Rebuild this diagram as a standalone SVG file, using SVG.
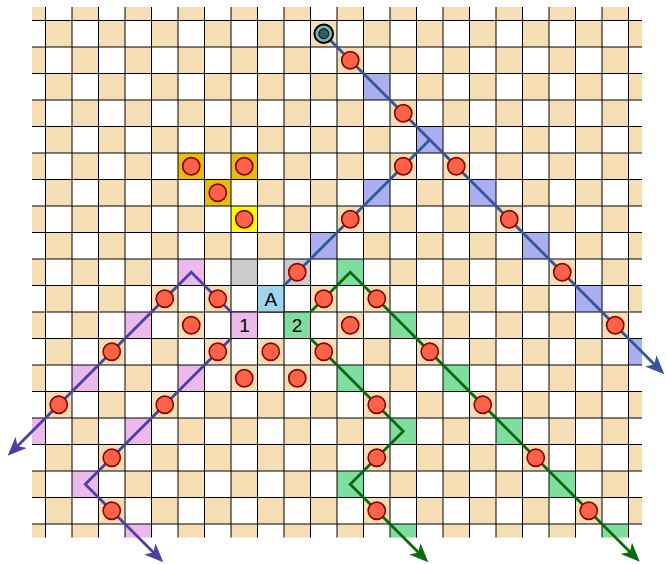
<svg xmlns="http://www.w3.org/2000/svg" width="666" height="564" viewBox="0 0 666 564">
<style>
.grid{stroke:#000;stroke-width:1;fill:none}
.blue{fill:#a9aff0}
.pink{fill:#ebb9ea}
.green{fill:#80dda0}
.gray{fill:#cbcbcb}
.gold{fill:#e6bd0e}
.yellow{fill:#ffff00}
.cellA{fill:#9fd5ec}
.dot{fill:#ff6347;stroke:#8b0000;stroke-width:1.6}
.lb{stroke:#34559a;stroke-width:2.8;fill:none}
.lp{stroke:#4d40a3;stroke-width:2.8;fill:none;stroke-linejoin:miter}
.lg{stroke:#0a6a0a;stroke-width:2.8;fill:none;stroke-linejoin:miter}
.lbl{font-family:"Liberation Sans",Arial,sans-serif;font-size:19px;fill:#000;text-anchor:middle;dominant-baseline:central}
</style>
<defs>
<pattern id="checker" patternUnits="userSpaceOnUse" x="19" y="-6" width="53" height="53">
<rect x="0" y="0" width="26.5" height="26.5" fill="#f5deb3"/>
<rect x="26.5" y="26.5" width="26.5" height="26.5" fill="#f5deb3"/>
</pattern>
<marker id="ab" viewBox="0 -9 20 18" refX="8" refY="0" markerWidth="20" markerHeight="18" markerUnits="userSpaceOnUse" orient="auto"><path d="M0,-8 L19,0 L0,8 L5,0 Z" fill="#34559a"/></marker>
<marker id="ap" viewBox="0 -9 20 18" refX="8" refY="0" markerWidth="20" markerHeight="18" markerUnits="userSpaceOnUse" orient="auto"><path d="M0,-8 L19,0 L0,8 L5,0 Z" fill="#4d40a3"/></marker>
<marker id="ag" viewBox="0 -9 20 18" refX="8" refY="0" markerWidth="20" markerHeight="18" markerUnits="userSpaceOnUse" orient="auto"><path d="M0,-8 L19,0 L0,8 L5,0 Z" fill="#0a6a0a"/></marker>
</defs>
<rect x="0" y="0" width="666" height="564" fill="#fff"/>
<g id="board">
<rect x="32" y="7" width="610" height="530.5" fill="url(#checker)"/>
</g>
<g id="cells">
<rect class="blue" x="363.5" y="73.5" width="26.5" height="26.5"/>
<rect class="blue" x="416.5" y="126.5" width="26.5" height="26.5"/>
<rect class="blue" x="469.5" y="179.5" width="26.5" height="26.5"/>
<rect class="blue" x="522.5" y="232.5" width="26.5" height="26.5"/>
<rect class="blue" x="575.5" y="285.5" width="26.5" height="26.5"/>
<rect class="blue" x="628.5" y="338.5" width="13.5" height="26.5"/>
<rect class="blue" x="363.5" y="179.5" width="26.5" height="26.5"/>
<rect class="blue" x="310.5" y="232.5" width="26.5" height="26.5"/>
<rect class="gray" x="231" y="259" width="26.5" height="26.5"/>
<rect class="gray" x="284" y="259" width="26.5" height="26.5"/>
<rect class="gold" x="178" y="153" width="26.5" height="26.5"/>
<rect class="gold" x="231" y="153" width="26.5" height="26.5"/>
<rect class="gold" x="204.5" y="179.5" width="26.5" height="26.5"/>
<rect class="yellow" x="231" y="206" width="26.5" height="26.5"/>
<rect class="pink" x="178" y="259" width="26.5" height="26.5"/>
<rect class="pink" x="125" y="312" width="26.5" height="26.5"/>
<rect class="pink" x="72" y="365" width="26.5" height="26.5"/>
<rect class="pink" x="178" y="365" width="26.5" height="26.5"/>
<rect class="pink" x="32" y="418" width="13.5" height="26.5"/>
<rect class="pink" x="125" y="418" width="26.5" height="26.5"/>
<rect class="pink" x="72" y="471" width="26.5" height="26.5"/>
<rect class="pink" x="125" y="524" width="26.5" height="13.5"/>
<rect class="green" x="337" y="259" width="26.5" height="26.5"/>
<rect class="green" x="390" y="312" width="26.5" height="26.5"/>
<rect class="green" x="443" y="365" width="26.5" height="26.5"/>
<rect class="green" x="496" y="418" width="26.5" height="26.5"/>
<rect class="green" x="549" y="471" width="26.5" height="26.5"/>
<rect class="green" x="602" y="524" width="26.5" height="13.5"/>
<rect class="green" x="337" y="365" width="26.5" height="26.5"/>
<rect class="green" x="390" y="418" width="26.5" height="26.5"/>
<rect class="green" x="337" y="471" width="26.5" height="26.5"/>
<rect class="green" x="390" y="524" width="26.5" height="13.5"/>
</g>
<g id="gridlines">
<path class="grid" d="M45.5,7V537.5M72,7V537.5M98.5,7V537.5M125,7V537.5M151.5,7V537.5M178,7V537.5M204.5,7V537.5M231,7V537.5M257.5,7V537.5M284,7V537.5M310.5,7V537.5M337,7V537.5M363.5,7V537.5M390,7V537.5M416.5,7V537.5M443,7V537.5M469.5,7V537.5M496,7V537.5M522.5,7V537.5M549,7V537.5M575.5,7V537.5M602,7V537.5M628.5,7V537.5"/>
<path class="grid" d="M32,20.5H642M32,47H642M32,73.5H642M32,100H642M32,126.5H642M32,153H642M32,179.5H642M32,206H642M32,232.5H642M32,259H642M32,285.5H642M32,312H642M32,338.5H642M32,365H642M32,391.5H642M32,418H642M32,444.5H642M32,471H642M32,497.5H642M32,524H642"/>
</g>
<g id="cell-A"><rect class="cellA" x="257.5" y="285.5" width="26.5" height="26.5" stroke="#000" stroke-width="1"/><text class="lbl" x="270.75" y="299">A</text></g>
<g id="cell-1"><rect class="pink" x="231" y="312" width="26.5" height="26.5" stroke="#000" stroke-width="1"/><text class="lbl" x="244.5" y="325.5">1</text></g>
<g id="cell-2"><rect class="green" x="284" y="312" width="26.5" height="26.5" stroke="#000" stroke-width="1"/><text class="lbl" x="297" y="325.5">2</text></g>
<g id="connectors">
<path class="lb" d="M323.75,33.75 L656.5,366.5" marker-end="url(#ab)"/>
<path class="lb" d="M429.75,139.75 L284,285.5"/>
<path class="lp" d="M231,312 L191.25,272.25 L15.5,448" marker-end="url(#ap)"/>
<path class="lp" d="M231,338.5 L85.25,484.25 L155.5,554.5" marker-end="url(#ap)"/>
<path class="lg" d="M310.5,312 L350.25,272.25 L632,554" marker-end="url(#ag)"/>
<path class="lg" d="M310.5,338.5 L403.25,431.25 L350.25,484.25 L420.5,554.5" marker-end="url(#ag)"/>
</g>
<g id="start"><circle cx="323.75" cy="33.75" r="9.3" fill="#79b3b0" stroke="#000" stroke-width="2"/><circle cx="323.75" cy="33.75" r="5" fill="#2e5d5a" stroke="#000" stroke-width="1"/></g>
<g id="dots">
<g id="d12-2"><circle class="dot" cx="350.25" cy="60.25" r="8.6"/></g>
<g id="d14-4"><circle class="dot" cx="403.25" cy="113.25" r="8.6"/></g>
<g id="d16-6"><circle class="dot" cx="456.25" cy="166.25" r="8.6"/></g>
<g id="d18-8"><circle class="dot" cx="509.25" cy="219.25" r="8.6"/></g>
<g id="d20-10"><circle class="dot" cx="562.25" cy="272.25" r="8.6"/></g>
<g id="d22-12"><circle class="dot" cx="615.25" cy="325.25" r="8.6"/></g>
<g id="d14-6"><circle class="dot" cx="403.25" cy="166.25" r="8.6"/></g>
<g id="d12-8"><circle class="dot" cx="350.25" cy="219.25" r="8.6"/></g>
<g id="d10-10"><circle class="dot" cx="297.25" cy="272.25" r="8.6"/></g>
<g id="d6-6"><circle class="dot" cx="191.25" cy="166.25" r="8.6"/></g>
<g id="d8-6"><circle class="dot" cx="244.25" cy="166.25" r="8.6"/></g>
<g id="d7-7"><circle class="dot" cx="217.75" cy="192.75" r="8.6"/></g>
<g id="d8-8"><circle class="dot" cx="244.25" cy="219.25" r="8.6"/></g>
<g id="d5-11"><circle class="dot" cx="164.75" cy="298.75" r="8.6"/></g>
<g id="d7-11"><circle class="dot" cx="217.75" cy="298.75" r="8.6"/></g>
<g id="d3-13"><circle class="dot" cx="111.75" cy="351.75" r="8.6"/></g>
<g id="d1-15"><circle class="dot" cx="58.75" cy="404.75" r="8.6"/></g>
<g id="d7-13"><circle class="dot" cx="217.75" cy="351.75" r="8.6"/></g>
<g id="d5-15"><circle class="dot" cx="164.75" cy="404.75" r="8.6"/></g>
<g id="d3-17"><circle class="dot" cx="111.75" cy="457.75" r="8.6"/></g>
<g id="d3-19"><circle class="dot" cx="111.75" cy="510.75" r="8.6"/></g>
<g id="d6-12"><circle class="dot" cx="191.25" cy="325.25" r="8.6"/></g>
<g id="d9-13"><circle class="dot" cx="270.75" cy="351.75" r="8.6"/></g>
<g id="d12-12"><circle class="dot" cx="350.25" cy="325.25" r="8.6"/></g>
<g id="d8-14"><circle class="dot" cx="244.25" cy="378.25" r="8.6"/></g>
<g id="d10-14"><circle class="dot" cx="297.25" cy="378.25" r="8.6"/></g>
<g id="d11-11"><circle class="dot" cx="323.75" cy="298.75" r="8.6"/></g>
<g id="d13-11"><circle class="dot" cx="376.75" cy="298.75" r="8.6"/></g>
<g id="d15-13"><circle class="dot" cx="429.75" cy="351.75" r="8.6"/></g>
<g id="d17-15"><circle class="dot" cx="482.75" cy="404.75" r="8.6"/></g>
<g id="d19-17"><circle class="dot" cx="535.75" cy="457.75" r="8.6"/></g>
<g id="d21-19"><circle class="dot" cx="588.75" cy="510.75" r="8.6"/></g>
<g id="d11-13"><circle class="dot" cx="323.75" cy="351.75" r="8.6"/></g>
<g id="d13-15"><circle class="dot" cx="376.75" cy="404.75" r="8.6"/></g>
<g id="d13-17"><circle class="dot" cx="376.75" cy="457.75" r="8.6"/></g>
<g id="d13-19"><circle class="dot" cx="376.75" cy="510.75" r="8.6"/></g>
</g>
</svg>
